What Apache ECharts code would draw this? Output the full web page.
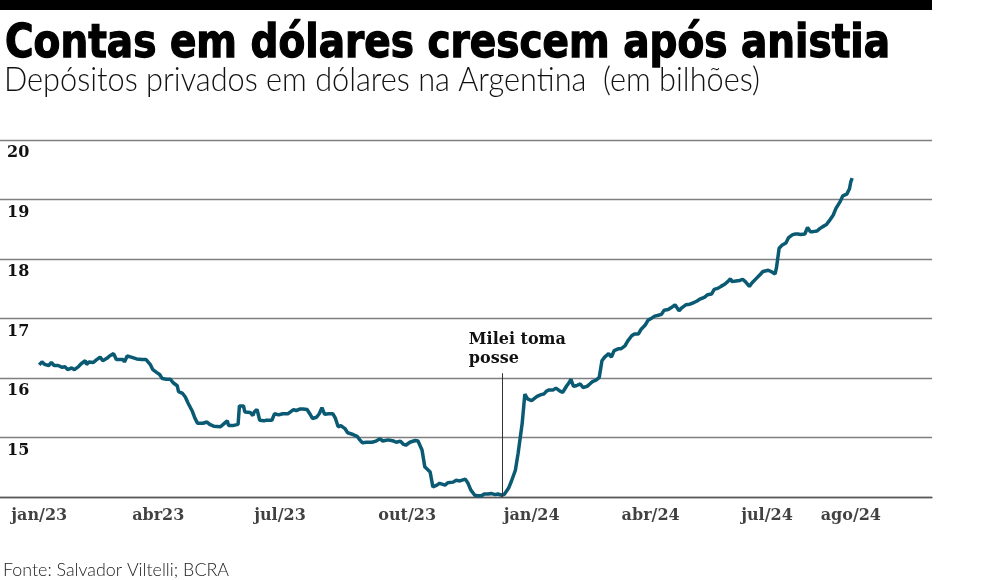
<!DOCTYPE html>
<html>
<head>
<meta charset="utf-8">
<script src="https://cdn.jsdelivr.net/npm/echarts@6/dist/echarts.min.js"></script>
<style>
    html, body { margin: 0; padding: 0; background: #fff; }
    #chart { width: 984px; height: 580px; }
</style>
</head>
<body>
<div id="chart"></div>
<script>
// datas
const dates = [
    '2023-01-02', '2023-01-04', '2023-01-06', '2023-01-09', '2023-01-11', '2023-01-13', '2023-01-16', '2023-01-19',
    '2023-01-21', '2023-01-23', '2023-01-26', '2023-01-28', '2023-01-31', '2023-02-02', '2023-02-05', '2023-02-06',
    '2023-02-08', '2023-02-11', '2023-02-13', '2023-02-16', '2023-02-18', '2023-02-21', '2023-02-23', '2023-02-26',
    '2023-02-28', '2023-03-03', '2023-03-05', '2023-03-06', '2023-03-08', '2023-03-11', '2023-03-15', '2023-03-19',
    '2023-03-22', '2023-03-25', '2023-03-27', '2023-03-30', '2023-04-01', '2023-04-03', '2023-04-06', '2023-04-09',
    '2023-04-11', '2023-04-14', '2023-04-15', '2023-04-18', '2023-04-20', '2023-04-22', '2023-04-25', '2023-04-27',
    '2023-04-29', '2023-05-03', '2023-05-06', '2023-05-08',
    '2023-05-11', '2023-05-16', '2023-05-18', '2023-05-21', '2023-05-22', '2023-05-25', '2023-05-29', '2023-05-30',
    '2023-06-02', '2023-06-03', '2023-06-07', '2023-06-09', '2023-06-10', '2023-06-12', '2023-06-14', '2023-06-17',
    '2023-06-19', '2023-06-23', '2023-06-25', '2023-06-28', '2023-07-01', '2023-07-05', '2023-07-09', '2023-07-11',
    '2023-07-14', '2023-07-16', '2023-07-19', '2023-07-21', '2023-07-23', '2023-07-26', '2023-07-28', '2023-07-30',
    '2023-08-01', '2023-08-04', '2023-08-07', '2023-08-09', '2023-08-11', '2023-08-13', '2023-08-16', '2023-08-18',
    '2023-08-22', '2023-08-25', '2023-08-27', '2023-08-29', '2023-09-01', '2023-09-05', '2023-09-08', '2023-09-11',
    '2023-09-13', '2023-09-17', '2023-09-21', '2023-09-23', '2023-09-26', '2023-09-28', '2023-09-30', '2023-10-03',
    '2023-10-07', '2023-10-09', '2023-10-12', '2023-10-14', '2023-10-18', '2023-10-20', '2023-10-23', '2023-10-25',
    '2023-10-29', '2023-10-31', '2023-11-04', '2023-11-06', '2023-11-09', '2023-11-13', '2023-11-15', '2023-11-17',
    '2023-11-20', '2023-11-22', '2023-11-25', '2023-11-27', '2023-11-30', '2023-12-02', '2023-12-05', '2023-12-07',
    '2023-12-10', '2023-12-12', '2023-12-15', '2023-12-17', '2023-12-20', '2023-12-22', '2023-12-25', '2023-12-27',
    '2023-12-29', '2024-01-01', '2024-01-05', '2024-01-08', '2024-01-10', '2024-01-12', '2024-01-14',
    '2024-01-17', '2024-01-19', '2024-01-22', '2024-01-24', '2024-01-27', '2024-01-29', '2024-01-30', '2024-02-01',
    '2024-02-03', '2024-02-06', '2024-02-08', '2024-02-11', '2024-02-13', '2024-02-15', '2024-02-18', '2024-02-20',
    '2024-02-22', '2024-02-24', '2024-02-27', '2024-02-29', '2024-03-02', '2024-03-05', '2024-03-07', '2024-03-10',
    '2024-03-12', '2024-03-15', '2024-03-17', '2024-03-20', '2024-03-22', '2024-03-25', '2024-03-27', '2024-03-30',
    '2024-04-01', '2024-04-03', '2024-04-06', '2024-04-08', '2024-04-11', '2024-04-13', '2024-04-16', '2024-04-17',
    '2024-04-19', '2024-04-21', '2024-04-24', '2024-04-27', '2024-04-29', '2024-05-02', '2024-05-04',
    '2024-05-08', '2024-05-10', '2024-05-13', '2024-05-15', '2024-05-18', '2024-05-20', '2024-05-23', '2024-05-25',
    '2024-05-27', '2024-05-28', '2024-05-31', '2024-06-03', '2024-06-05', '2024-06-07', '2024-06-10', '2024-06-12',
    '2024-06-15', '2024-06-18', '2024-06-20', '2024-06-24', '2024-06-26', '2024-06-29', '2024-06-30', '2024-07-02',
    '2024-07-04', '2024-07-07', '2024-07-09', '2024-07-12', '2024-07-14', '2024-07-16', '2024-07-18', '2024-07-21',
    '2024-07-23', '2024-07-25', '2024-07-27', '2024-07-30', '2024-08-01', '2024-08-03', '2024-08-06', '2024-08-08',
    '2024-08-11', '2024-08-13', '2024-08-16', '2024-08-18', '2024-08-21', '2024-08-23', '2024-08-24', '2024-08-25'
];

// depósitos em US$ bilhões
const deposits = [
    16.22, 16.27, 16.23, 16.21, 16.26, 16.21, 16.21, 16.18,
    16.19, 16.14, 16.17, 16.14, 16.19, 16.24, 16.29, 16.23,
    16.27, 16.26, 16.30, 16.35, 16.29, 16.33, 16.37, 16.41,
    16.31, 16.31, 16.31, 16.27, 16.37, 16.35, 16.32, 16.31,
    16.31, 16.23, 16.14, 16.09, 16.06, 15.99, 15.98, 15.98,
    15.92, 15.87, 15.77, 15.74, 15.68, 15.58, 15.45, 15.33,
    15.24, 15.24, 15.26, 15.22,
    15.19, 15.18, 15.22, 15.28, 15.20, 15.20, 15.22, 15.53,
    15.53, 15.43, 15.42, 15.37, 15.43, 15.47, 15.29, 15.28,
    15.29, 15.29, 15.40, 15.38, 15.40, 15.40, 15.47, 15.45,
    15.48, 15.48, 15.47, 15.40, 15.32, 15.34, 15.40, 15.50,
    15.39, 15.40, 15.40, 15.32, 15.18, 15.20, 15.15, 15.08,
    15.05, 15.02, 14.96, 14.91, 14.92, 14.92, 14.94, 14.98,
    14.94, 14.96, 14.94, 14.92, 14.94, 14.89, 14.87, 14.92,
    14.95, 14.94, 14.79, 14.51, 14.42, 14.17, 14.20, 14.23,
    14.20, 14.24, 14.25, 14.28, 14.27, 14.30, 14.23, 14.12,
    14.03, 14.02, 14.02, 14.05, 14.05, 14.06, 14.04, 14.05,
    14.03, 14.05, 14.15, 14.26, 14.45, 14.73, 15.23, 15.73,
    15.65, 15.62, 15.69, 15.72, 15.73, 15.78, 15.80,
    15.80, 15.83, 15.78, 15.76, 15.87, 15.93, 15.98, 15.86,
    15.87, 15.90, 15.84, 15.86, 15.90, 15.94, 15.97, 16.01,
    16.29, 16.35, 16.41, 16.35, 16.46, 16.49, 16.49, 16.54,
    16.62, 16.71, 16.74, 16.74, 16.82, 16.89, 16.97, 17.01,
    17.04, 17.05, 17.07, 17.14, 17.15, 17.18, 17.23, 17.23,
    17.13, 17.18, 17.23, 17.24, 17.26, 17.29, 17.32,
    17.36, 17.40, 17.41, 17.49, 17.51, 17.54, 17.58, 17.62,
    17.67, 17.62, 17.63, 17.64, 17.66, 17.62, 17.54, 17.60,
    17.67, 17.74, 17.79, 17.81, 17.79, 17.75, 17.85, 18.18,
    18.23, 18.27, 18.36, 18.41, 18.42, 18.42, 18.41, 18.42,
    18.53, 18.46, 18.46, 18.47, 18.51, 18.54, 18.58, 18.64,
    18.74, 18.85, 18.96, 19.06, 19.09, 19.18, 19.30, 19.36
];

const tickDates = ['2023-01-02', '2023-03-31', '2023-06-29', '2023-10-01', '2024-01-01', '2024-03-29', '2024-06-23', '2024-08-24'];
const tickLabels = ['jan/23', 'abr23', 'jul/23', 'out/23', 'jan/24', 'abr/24', 'jul/24', 'ago/24'];

const mileiDate = '2023-12-10';
const mileiLabel = 'Milei toma\nposse';

const titleText = 'Contas em dólares crescem após anistia';
const subtitleText = 'Depósitos privados em dólares na Argentina  (em bilhões)';
const sourceText = 'Fonte: Salvador Viltelli; BCRA';

// escala horizontal para caber a fonte condensada
function fitScale(text, font, width) {
    const ctx = document.createElement('canvas').getContext('2d');
    ctx.font = font;
    return width / ctx.measureText(text).width;
}

const lineColor = '#0b5a73';
const axisFont = { fontFamily: 'DejaVu Serif', fontWeight: 'bold', fontSize: 16, color: '#111' };

const titleFont = 'bold 47px "DejaVu Sans"';
const subFont = '300 33px Lato';
const srcFont = '300 18px Lato';

const chart = echarts.init(document.getElementById('chart'));
const option = {
    animation: false,
    grid: { left: 0, right: 52, top: 140, bottom: 83 },
    graphic: [
        { type: 'rect', shape: { x: 0, y: 0, width: 932, height: 10 }, style: { fill: '#000' } },
        {
            type: 'text', x: 5, y: 45, scaleX: fitScale(titleText, titleFont, 885),
            style: { text: titleText, font: titleFont, fill: '#000', stroke: '#000', lineWidth: 1.4, verticalAlign: 'middle' }
        },
        {
            type: 'text', x: 4, y: 80, scaleX: fitScale(subtitleText, subFont, 756),
            style: { text: subtitleText, font: subFont, fill: '#111', verticalAlign: 'middle' }
        },
        {
            type: 'text', x: 3, y: 570, scaleX: fitScale(sourceText, srcFont, 226),
            style: { text: sourceText, font: srcFont, fill: '#222', verticalAlign: 'middle' }
        }
    ],
    xAxis: {
        type: 'time',
        min: '2022-12-04',
        max: '2024-10-23',
        axisLine: { show: true, lineStyle: { color: '#555', width: 1.3 } },
        axisTick: { show: false },
        splitLine: { show: false },
        axisLabel: { show: false }
    },
    yAxis: {
        type: 'value',
        min: 14,
        max: 20,
        interval: 1,
        axisLine: { show: false },
        axisTick: { show: false },
        splitLine: { lineStyle: { color: '#7f7f7f', width: 1.3 } },
        axisLabel: Object.assign({
            inside: true,
            margin: 7,
            verticalAlign: 'top',
            padding: [5, 0, 0, 0],
            formatter: function (v) { return v === 14 ? '' : String(v); }
        }, axisFont)
    },
    series: [
        {
            type: 'line',
            data: dates.map(function (d, i) { return [d, deposits[i]]; }),
            showSymbol: false,
            silent: true,
            lineStyle: { color: lineColor, width: 3.5 },
            markLine: {
                silent: true,
                symbol: ['none', 'none'],
                label: { show: false },
                lineStyle: { color: '#333', width: 1, type: 'solid' },
                data: [[{ coord: [mileiDate, 14] }, { coord: [mileiDate, 16.08] }]]
            },
            markPoint: {
                silent: true,
                symbol: 'circle',
                symbolSize: 0,
                data: [{
                    coord: [mileiDate, 16.08],
                    label: Object.assign({
                        show: true,
                        formatter: mileiLabel,
                        position: 'top',
                        align: 'left',
                        lineHeight: 19,
                        offset: [-33, 0]
                    }, axisFont)
                }]
            }
        },
        {
            // rótulos do eixo x nas datas
            type: 'scatter',
            silent: true,
            symbolSize: 0,
            data: tickDates.map(function (d, i) { return { value: [d, 14], name: tickLabels[i] }; }),
            label: Object.assign({
                show: true,
                position: 'bottom',
                distance: 11,
                formatter: '{b}'
            }, axisFont)
        }
    ]
};
chart.setOption(option);

window.onresize = function () {
    chart.resize();
};
</script>
</body>
</html>
